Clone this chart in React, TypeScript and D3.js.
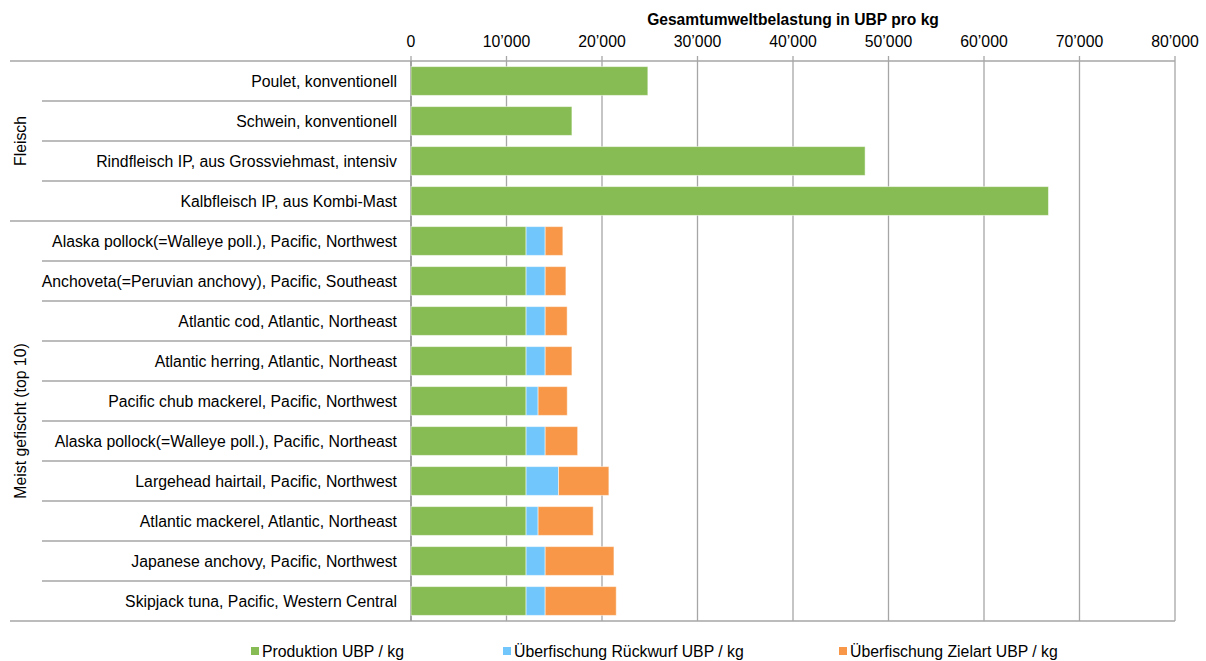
import React from 'react';
import * as d3 from 'd3';

// Kategorien (von oben nach unten)
const categories = [
  'Poulet, konventionell',
  'Schwein, konventionell',
  'Rindfleisch IP, aus Grossviehmast, intensiv',
  'Kalbfleisch IP, aus Kombi-Mast',
  'Alaska pollock(=Walleye poll.), Pacific, Northwest',
  'Anchoveta(=Peruvian anchovy), Pacific, Southeast',
  'Atlantic cod, Atlantic, Northeast',
  'Atlantic herring, Atlantic, Northeast',
  'Pacific chub mackerel, Pacific, Northwest',
  'Alaska pollock(=Walleye poll.), Pacific, Northeast',
  'Largehead hairtail, Pacific, Northwest',
  'Atlantic mackerel, Atlantic, Northeast',
  'Japanese anchovy, Pacific, Northwest',
  'Skipjack tuna, Pacific, Western Central',
];

const produktion = [24800, 16850, 47550, 66750, 12050, 12050, 12050, 12050, 12050, 12050, 12050, 12050, 12050, 12050];
const rueckwurf = [0, 0, 0, 0, 2000, 2000, 2000, 2000, 1260, 2000, 3400, 1260, 2000, 2000];
const zielart = [0, 0, 0, 0, 1850, 2170, 2300, 2800, 3050, 3400, 5270, 5770, 7200, 7440];

const groups = [
  { name: 'Fleisch', from: 0, to: 3 },
  { name: 'Meist gefischt (top 10)', from: 4, to: 13 },
];

const seriesNames = ['Produktion UBP / kg', 'Überfischung Rückwurf UBP / kg', 'Überfischung Zielart UBP / kg'];
const seriesColors = ['#86bc53', '#71c6fc', '#f79747'];
const xTicks = [0, 10000, 20000, 30000, 40000, 50000, 60000, 70000, 80000];

const width = 1206;
const height = 661;
const font = 'Liberation Sans, Arial, sans-serif';
const fs = 15.8;

export default function App() {
  const x = d3.scaleLinear().domain([0, 80000]).range([411, 1175]);
  const y = d3.scaleBand<number>()
    .domain(d3.range(categories.length))
    .range([61, 621])
    .paddingInner(0.28)
    .paddingOuter(0.14);
  const step = y.step();
  const rowTop = (i: number) => 61 + i * step;

  const rows = categories.map((c, i) => ({ i, p: produktion[i], r: rueckwurf[i], z: zielart[i] }));
  const stacked = d3.stack<any>().keys(['p', 'r', 'z'])(rows);
  const fmt = (v: number) => d3.format(',')(v).replace(/,/g, '\u2019');

  return (
    <svg width={width} height={height} style={{ position: 'absolute', left: 0, top: 0, background: '#fff' }} fontFamily={font}>
      {/* Titel */}
      <text x={(x(0) + x(80000)) / 2} y={25} textAnchor="middle" fontSize={15.6} fontWeight="bold">
        Gesamtumweltbelastung in UBP pro kg
      </text>

      {/* Gitternetz */}
      {xTicks.map(t => (
        <g key={t}>
          <line x1={x(t)} x2={x(t)} y1={56} y2={621} stroke="#a6a6a6" strokeWidth={1.3} />
          <text x={x(t)} y={47} textAnchor="middle" fontSize={fs}>{fmt(t)}</text>
        </g>
      ))}
      <line x1={10} x2={x(80000)} y1={61} y2={61} stroke="#a6a6a6" strokeWidth={1.3} />
      <line x1={10} x2={x(80000)} y1={621} y2={621} stroke="#a6a6a6" strokeWidth={1.3} />
      <line x1={x(0)} x2={x(0)} y1={61} y2={621} stroke="#999" strokeWidth={1.5} />

      {/* Zeilentrenner */}
      {d3.range(1, categories.length).map(i => {
        const isGroup = groups.some(g => g.from === i);
        return (
          <line key={i} x1={isGroup ? 10 : 42} x2={x(0)} y1={rowTop(i)} y2={rowTop(i)} stroke="#a6a6a6" strokeWidth={1.3} />
        );
      })}

      {/* Balken */}
      {stacked.map((s, si) => (
        <g key={si} fill={seriesColors[si]}>
          {s.filter(d => d[1] > d[0]).map(d => (
            <rect key={d.data.i} x={x(d[0])} y={y(d.data.i)} width={x(d[1]) - x(d[0])} height={y.bandwidth()}
              stroke="#fff" strokeOpacity={0.5} strokeWidth={1} />
          ))}
        </g>
      ))}

      {/* Kategorienbeschriftung */}
      {categories.map((c, i) => (
        <text key={c} x={397} y={(y(i) as number) + y.bandwidth() / 2} dy="0.35em" textAnchor="end" fontSize={fs}>{c}</text>
      ))}

      {/* Gruppenbeschriftung */}
      {groups.map(g => {
        const cy = (rowTop(g.from) + rowTop(g.to + 1)) / 2;
        return (
          <text key={g.name} transform={`translate(20,${cy}) rotate(-90)`} dy="0.35em" textAnchor="middle" fontSize={fs}>{g.name}</text>
        );
      })}

      {/* Legende */}
      {seriesNames.map((n, i) => {
        const lx = [251, 503, 839][i];
        return (
          <g key={n}>
            <rect x={lx} y={647} width={8} height={8} fill={seriesColors[i]} />
            <text x={lx + 11} y={651} dy="0.35em" fontSize={fs}>{n}</text>
          </g>
        );
      })}
    </svg>
  );
}
